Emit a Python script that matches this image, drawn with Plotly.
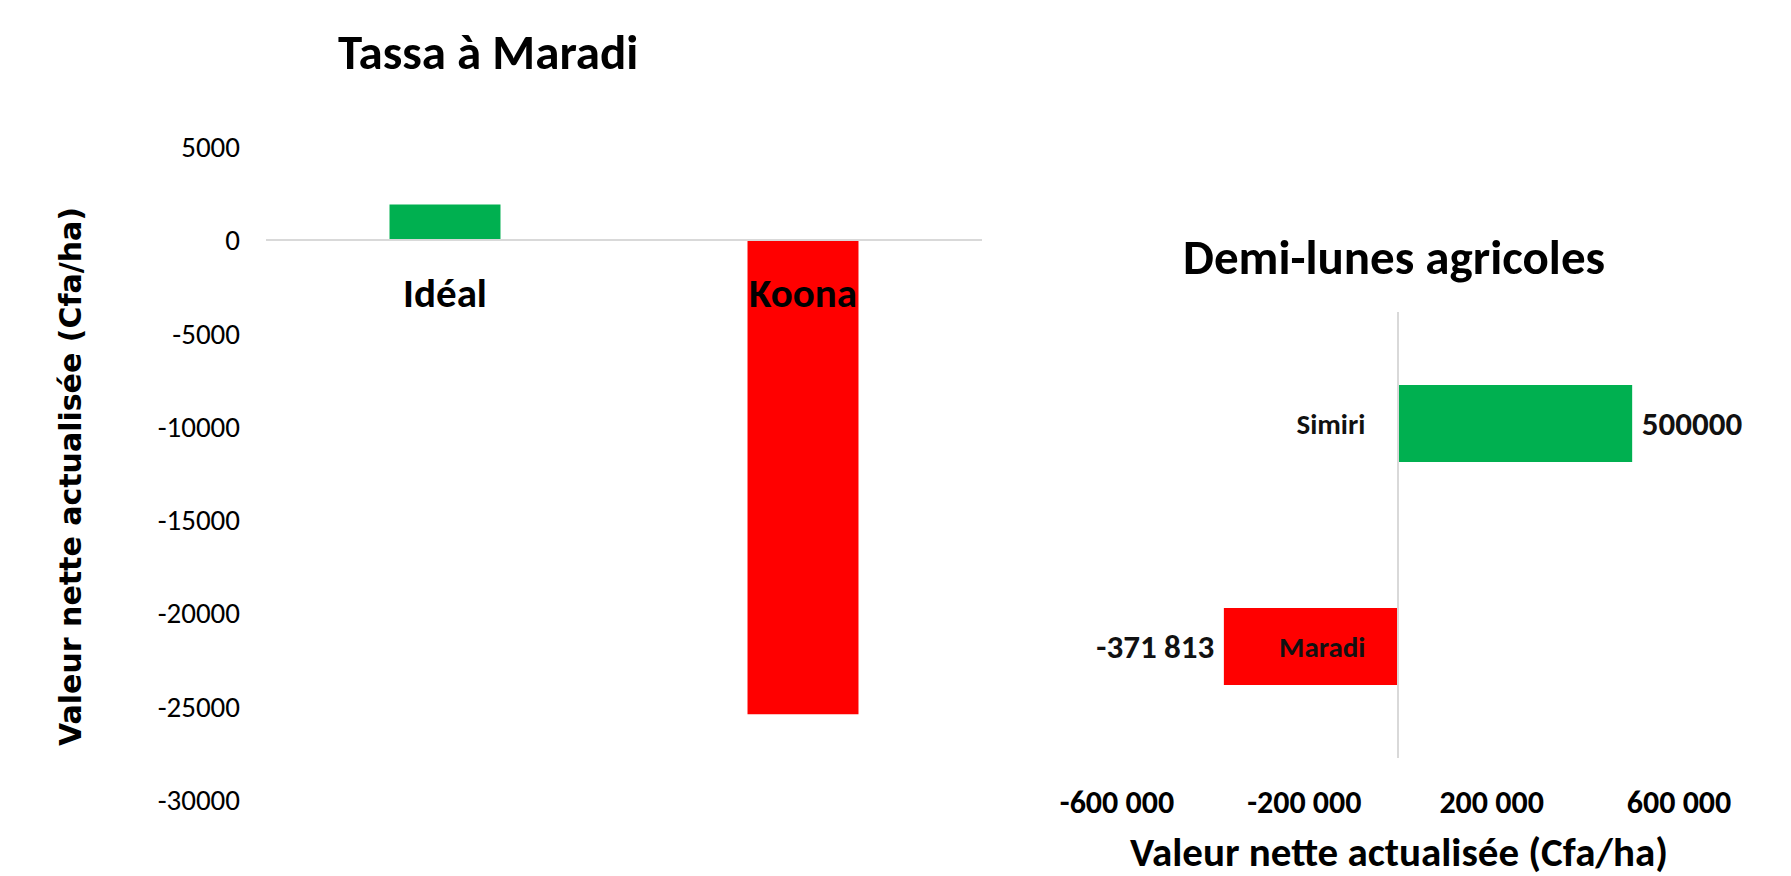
import plotly.graph_objects as go

# ---- data ----
tassa_categories = ["Idéal", "Koona"]
tassa_values = [1900, -25400]
tassa_colors = ["#00B050", "#FF0000"]
tassa_ticks = [5000, 0, -5000, -10000, -15000, -20000, -25000, -30000]
tassa_ticktext = ["5000", "0", "-5000", "-10000", "-15000", "-20000", "-25000", "-30000"]

demi_categories = ["Maradi", "Simiri"]
demi_values = [-371813, 500000]
demi_labels = ["-371 813", "500000"]
demi_colors = ["#FF0000", "#00B050"]
demi_tickvals = [-600000, -200000, 200000, 600000]
demi_ticktext = ["-600 000", "-200 000", "200 000", "600 000"]

W, H = 1791, 876
def px(x):
    return x / W
def py(y):
    return 1 - y / H

# layout geometry (pixels)
L_x0, L_x1 = 266, 982
L_ytop, L_ybot = 146.7, 800
R_x0, R_x1 = 1117, 1679
R_ytop, R_ybot = 312, 758

CAL = "Carlito, Lato, sans-serif"

fig = go.Figure()

fig.add_trace(go.Bar(
    x=tassa_categories, y=tassa_values, marker_color=tassa_colors,
    width=0.31, xaxis="x", yaxis="y", showlegend=False, hoverinfo="x+y",
))

fig.add_trace(go.Bar(
    y=demi_categories, x=demi_values, orientation="h", marker_color=demi_colors,
    width=0.345, text=demi_labels, textposition="outside", cliponaxis=False,
    texttemplate=["%{text}\u2009", "\u2009%{text}"],
    constraintext="none",
    textfont=dict(family=CAL, size=33, color="#111", weight="bold"),
    xaxis="x2", yaxis="y2", showlegend=False,
))

ymin, ymax = min(tassa_ticks), max(tassa_ticks)
zero_frac = (0 - ymin) / (ymax - ymin)
ydom = [py(L_ybot), py(L_ytop)]
xaxis_pos = ydom[0] + zero_frac * (ydom[1] - ydom[0])

xr = [min(demi_tickvals), max(demi_tickvals)]
xdom2 = [px(R_x0), px(R_x1)]
yaxis2_pos = xdom2[0] + (0 - xr[0]) / (xr[1] - xr[0]) * (xdom2[1] - xdom2[0])

fig.update_layout(
    width=W, height=H,
    margin=dict(l=0, r=0, t=0, b=0),
    paper_bgcolor="white", plot_bgcolor="rgba(0,0,0,0)",
    template="none",
    font=dict(family=CAL, color="#000"),
    xaxis=dict(
        domain=[px(L_x0), px(L_x1)], anchor="free", position=xaxis_pos,
        type="category", showline=True, linecolor="#D9D9D9", linewidth=1.5,
        showgrid=False, zeroline=False, ticks="", ticklabelstandoff=17,
        tickfont=dict(family=CAL, size=41, color="#000", weight="bold"),
        automargin=False, layer="above traces",
    ),
    yaxis=dict(
        domain=ydom, anchor="x", range=[ymin, ymax], tickvals=tassa_ticks,
        ticktext=tassa_ticktext, showgrid=False, zeroline=False, showline=False,
        ticks="", ticklabelstandoff=25,
        tickfont=dict(family=CAL, size=29, color="#000"),
        automargin=False,
    ),
    xaxis2=dict(
        domain=xdom2, anchor="y2", range=xr, tickvals=demi_tickvals,
        ticktext=demi_ticktext, showgrid=False, zeroline=False, showline=False,
        ticks="", ticklabelstandoff=22,
        tickfont=dict(family=CAL, size=32, color="#000", weight="bold"),
        automargin=False,
    ),
    yaxis2=dict(
        domain=[py(R_ybot), py(R_ytop)], anchor="free", position=yaxis2_pos,
        type="category", showline=True, linecolor="#D9D9D9", linewidth=1.5,
        showgrid=False, zeroline=False, ticks="", ticklabelstandoff=26,
        tickfont=dict(family=CAL, size=29, color="#111", weight="bold"),
        automargin=False, layer="above traces",
    ),
    annotations=[
        dict(text="Tassa à Maradi", x=px(488), y=py(52), xref="paper", yref="paper",
             xanchor="center", yanchor="middle", showarrow=False,
             font=dict(family=CAL, size=49, color="#000", weight="bold")),
        dict(text="Demi-lunes agricoles", x=px(1394), y=py(257), xref="paper", yref="paper",
             xanchor="center", yanchor="middle", showarrow=False,
             font=dict(family=CAL, size=49, color="#000", weight="bold")),
        dict(text="Valeur nette actualisée (Cfa/ha)", x=px(1399), y=py(852), xref="paper", yref="paper",
             xanchor="center", yanchor="middle", showarrow=False,
             font=dict(family=CAL, size=41, color="#000", weight="bold")),
        dict(text="Valeur nette actualisée (Cfa/ha)", x=px(71), y=py(477), xref="paper", yref="paper",
             xanchor="center", yanchor="middle", showarrow=False, textangle=-90,
             font=dict(family="DejaVu Sans", size=30, color="#000", weight="bold")),
    ],
)

fig.write_html("out.html")
